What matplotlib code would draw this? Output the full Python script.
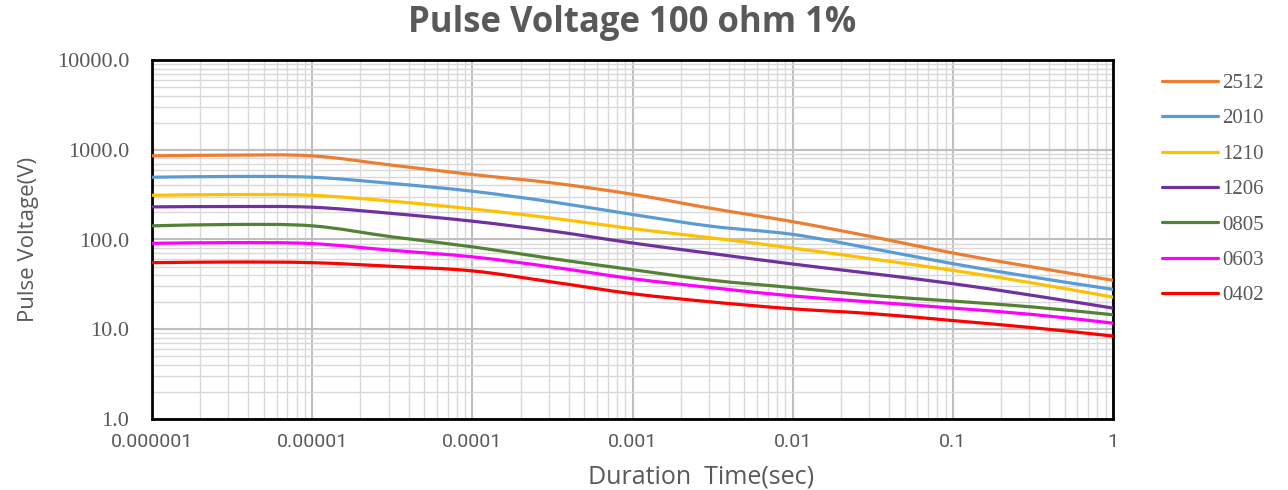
import matplotlib
matplotlib.use("Agg")
import numpy as np
import matplotlib.pyplot as plt
from matplotlib.path import Path
from matplotlib.patches import PathPatch
from matplotlib.lines import Line2D
from matplotlib.ticker import FixedLocator, NullFormatter, LogLocator

# duration time (sec), half-decade steps
duration = [1e-6, 3.16e-6, 1e-5, 3.16e-5, 1e-4, 3.16e-4, 1e-3,
            3.16e-3, 1e-2, 3.16e-2, 0.1, 0.316, 1.0]

v_2512 = [855, 871, 855, 673, 530, 427, 319, 221, 158, 107, 70.7, 49.3, 35.1]
v_2010 = [494, 504, 494, 421, 345, 262, 190, 140, 114, 79, 53.8, 38.1, 27.8]
v_1210 = [311, 317, 311, 267, 219, 173, 132, 104, 80.2, 60.6, 45.3, 32.7, 22.8]
v_1206 = [231, 233, 229, 195, 160, 124, 91.4, 69.6, 53.3, 41.6, 32.2, 23.8, 17.2]
v_0805 = [142, 147, 142, 107, 82.9, 61.2, 46.1, 35.1, 29.1, 23.8, 20.6, 17.7, 14.5]
v_0603 = [90.7, 92.3, 90, 75.7, 64.1, 49.3, 36.6, 29.0, 23.5, 20.1, 17.2, 14.6, 11.7]
v_0402 = [55.2, 56.1, 55.2, 50.2, 44.7, 33.6, 24.9, 20.1, 16.9, 14.9, 12.5, 10.4, 8.4]

sizes = ["2512", "2010", "1210", "1206", "0805", "0603", "0402"]
series = [v_2512, v_2010, v_1210, v_1206, v_0805, v_0603, v_0402]
colors = ["#ED7D31", "#5B9BD5", "#FFC000", "#7030A0", "#548235", "#FF00FF", "#FF0000"]

x_ticks = [1e-6, 1e-5, 1e-4, 1e-3, 1e-2, 1e-1, 1]
x_labels = ["0.000001", "0.00001", "0.0001", "0.001", "0.01", "0.1", "1"]
y_ticks = [1, 10, 100, 1000, 10000]
y_labels = ["1.0", "10.0", "100.0", "1000.0", "10000.0"]

GREY = "#595959"


def smooth_path(xs, ys):
    # Excel-style smoothed line: Catmull-Rom -> cubic Bezier, built in log space
    p = np.column_stack([np.log10(xs), np.log10(ys)])
    n = len(p)
    t = np.zeros_like(p)
    t[1:-1] = (p[2:] - p[:-2]) / 2
    t[0] = p[1] - p[0]
    t[-1] = p[-1] - p[-2]
    verts = [p[0]]
    codes = [Path.MOVETO]
    for i in range(n - 1):
        verts += [p[i] + t[i] / 3, p[i + 1] - t[i + 1] / 3, p[i + 1]]
        codes += [Path.CURVE4] * 3
    return Path(10 ** np.array(verts), codes)


fig = plt.figure(figsize=(12.88, 4.9), dpi=100)
ax = fig.add_axes([152 / 1288, 1 - 419 / 490, (1113 - 152) / 1288, (419 - 60) / 490])

ax.set_xscale("log")
ax.set_yscale("log")
ax.set_xlim(1e-6, 1)
ax.set_ylim(1, 10000)

handles = []
for name, vals, c in zip(sizes, series, colors):
    ax.add_patch(PathPatch(smooth_path(duration, vals), fill=False, edgecolor=c,
                           lw=2.3, capstyle="round", zorder=3))
    handles.append(Line2D([], [], color=c, lw=2.3, solid_capstyle="round", label=name))

ax.xaxis.set_major_locator(FixedLocator(x_ticks))
ax.set_xticklabels(x_labels)
ax.yaxis.set_major_locator(FixedLocator(y_ticks))
ax.set_yticklabels(y_labels)
ax.xaxis.set_minor_locator(LogLocator(base=10, subs=range(2, 10), numticks=20))
ax.yaxis.set_minor_locator(LogLocator(base=10, subs=range(2, 10), numticks=20))
ax.xaxis.set_minor_formatter(NullFormatter())
ax.yaxis.set_minor_formatter(NullFormatter())

ax.grid(True, which="major", color="#bfbfbf", lw=1.5)
ax.grid(True, which="minor", color="#d9d9d9", lw=1.0)
ax.set_axisbelow(True)
ax.tick_params(which="both", length=0)
ax.tick_params(axis="x", pad=10, labelsize=14, labelcolor=GREY)
ax.tick_params(axis="y", pad=16.5, labelsize=16, labelcolor=GREY)
for t in ax.get_yticklabels():
    t.set_family("Liberation Serif")
for t in ax.get_xticklabels():
    t.set_family("Roboto")

for s in ax.spines.values():
    s.set_color("black")
    s.set_linewidth(2)

ax.set_xlabel("Duration  Time(sec)", fontsize=18, color=GREY, family="Open Sans")
ax.xaxis.set_label_coords(0.571, -0.128)
ax.set_ylabel("Pulse Voltage(V)", fontsize=16, color=GREY, family="Open Sans")
ax.yaxis.set_label_coords(-0.118, 0.5)
fig.suptitle("Pulse Voltage 100 ohm 1%", x=632 / 1288, y=0.99, fontsize=25,
             fontweight="bold", color=GREY, family="Open Sans")

leg = ax.legend(handles=handles, loc="upper left", bbox_to_anchor=(1152 / 1288, 1 - 63 / 490),
                bbox_transform=fig.transFigure, frameon=False, borderpad=0,
                fontsize=15, labelspacing=0.76, handlelength=2.65, handletextpad=0.2)
for t in leg.get_texts():
    t.set_color(GREY)
    t.set_family("Liberation Serif")

fig.savefig("out.png", dpi=100)
